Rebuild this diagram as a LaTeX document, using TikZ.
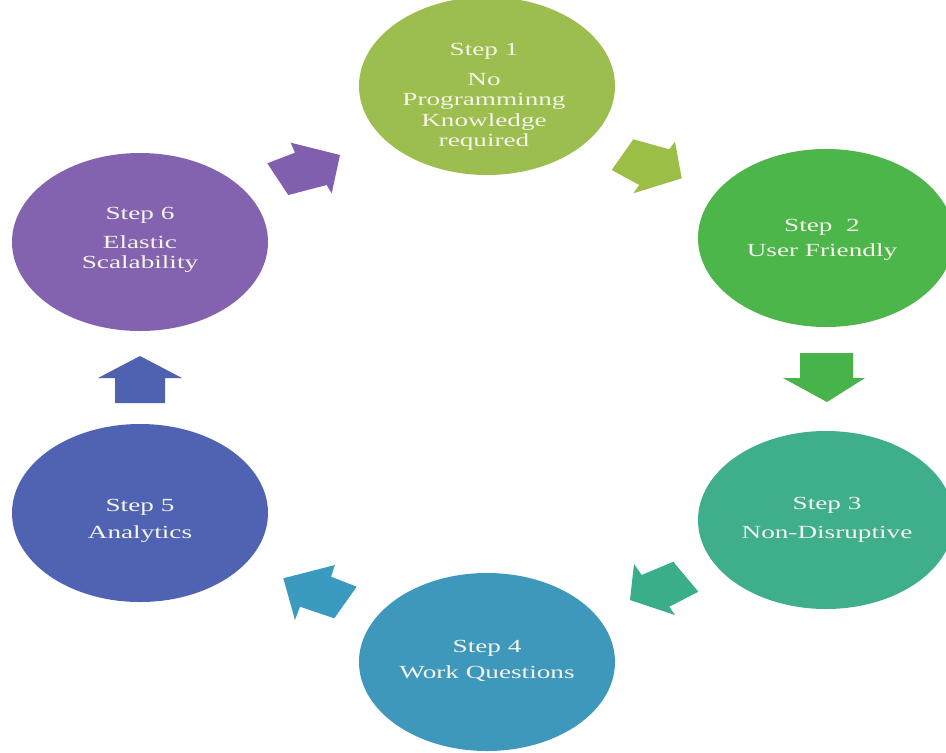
\documentclass[tikz,border=0pt]{standalone}
\usepackage{fontspec}
\setmainfont{Liberation Serif}
\usetikzlibrary{shapes.geometric}

\definecolor{cOne}{RGB}{156,190,78}
\definecolor{cTwo}{RGB}{76,182,75}
\definecolor{cThree}{RGB}{63,174,140}
\definecolor{cFour}{RGB}{62,152,188}
\definecolor{cFive}{RGB}{80,99,178}
\definecolor{cSix}{RGB}{131,99,176}
\definecolor{aOne}{RGB}{155,190,70}
\definecolor{aTwo}{RGB}{71,179,75}
\definecolor{aThree}{RGB}{58,174,138}
\definecolor{aFour}{RGB}{58,154,192}
\definecolor{aFive}{RGB}{78,98,176}
\definecolor{aSix}{RGB}{127,95,174}
\definecolor{txt}{RGB}{245,245,235}

% wide serif lettering
\newcommand{\widetxt}[1]{\scalebox{1.47}[1]{#1}}

\tikzset{
  stepcircle/.style={ellipse, minimum width=256pt, minimum height=178pt, inner sep=0pt, draw=none},
  steptext/.style={text=txt, align=center, inner sep=0pt,
    font=\fontsize{18.5}{20.5}\selectfont},
}

\begin{document}
\begin{tikzpicture}[x=1pt, y=-1pt]
  \useasboundingbox (0,0) rectangle (946,753);
  \fill[white] (0,0) rectangle (946,753);

  % circles
  \node[stepcircle, fill=cOne]   (s1) at (487,86)  {};
  \node[stepcircle, fill=cTwo]   (s2) at (826,238) {};
  \node[stepcircle, fill=cThree] (s3) at (826,520) {};
  \node[stepcircle, fill=cFour]  (s4) at (487,662) {};
  \node[stepcircle, fill=cFive]  (s5) at (140,513) {};
  \node[stepcircle, fill=cSix]   (s6) at (140,242) {};

  % labels
  \node[steptext] (t1) at (484,97)  {\widetxt{Step 1}\\[9pt]\widetxt{No}\\\widetxt{Programminng}\\\widetxt{Knowledge}\\\widetxt{required}};
  \node[steptext] (t2) at (822,240) {\widetxt{Step\ \ 2}\\[4pt]\widetxt{User Friendly}};
  \node[steptext] (t3) at (827,520) {\widetxt{Step 3}\\[8pt]\widetxt{Non-Disruptive}};
  \node[steptext] (t4) at (487,661) {\widetxt{Step 4}\\[5pt]\widetxt{Work Questions}};
  \node[steptext] (t5) at (140,521) {\widetxt{Step 5}\\[6pt]\widetxt{Analytics}};
  \node[steptext] (t6) at (140,240) {\widetxt{Step 6}\\[8pt]\widetxt{Elastic}\\\widetxt{Scalability}};

  % block arrows between the steps
  \fill[aSix]   (267.3,163.3) -- (295,152.7) -- (290.7,142.7) -- (340,155) -- (331.7,193.3) -- (326.7,185) -- (288.3,195) -- cycle;
  \fill[aOne]   (633.3,139.3) -- (669.3,149.3) -- (675,141.7) -- (681.7,178.3) -- (633.3,193.3) -- (639.3,185) -- (611.7,170) -- cycle;
  \fill[aTwo]   (800,353) -- (853,353) -- (853,378) -- (865,378) -- (827,402) -- (783,378) -- (800,378) -- cycle;
  \fill[aThree] (673.3,561.7) -- (698.3,591.7) -- (669.3,606.7) -- (675,615) -- (630,600) -- (634,564) -- (641.7,575) -- cycle;
  \fill[aFour]  (283.3,578.3) -- (335,565) -- (331,576.7) -- (356.7,586.7) -- (334.3,618.3) -- (300,606.7) -- (295,620) -- cycle;
  \fill[aFive]  (115,403) -- (165,403) -- (165,378) -- (182,378) -- (140,356) -- (98,378) -- (115,378) -- cycle;
\end{tikzpicture}
\end{document}
